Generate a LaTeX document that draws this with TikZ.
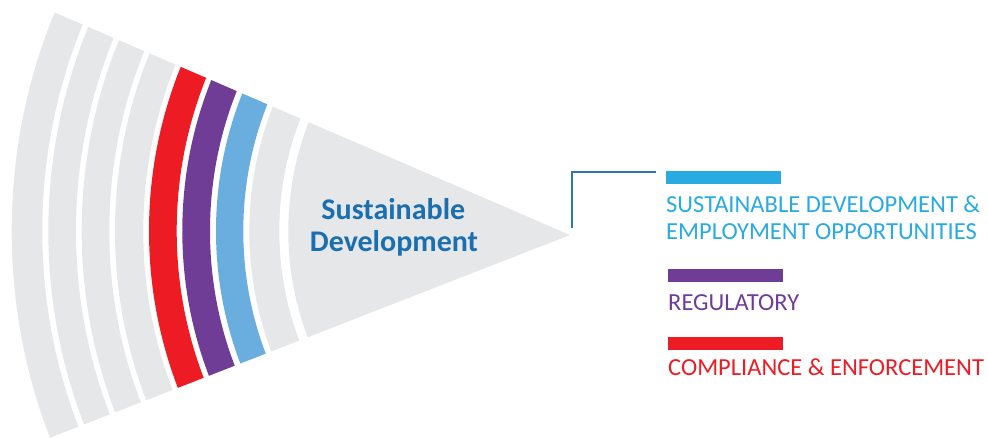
\documentclass[tikz,border=0pt]{standalone}
\usepackage{fontspec}
\setmainfont{Carlito}
\definecolor{bandgrey}{HTML}{E6E7E8}
\definecolor{bandred}{HTML}{ED1C24}
\definecolor{bandpurple}{HTML}{6F3C96}
\definecolor{bandblue}{HTML}{6AAEDF}
\definecolor{legcyan}{HTML}{29ABE2}
\definecolor{titleblue}{HTML}{1A6FB0}
\definecolor{linkblue}{HTML}{2E75B6}
\tikzset{
  titletext/.style={font=\bfseries\fontsize{30}{32}\selectfont, text=titleblue, inner sep=0pt, anchor=base},
  legtext/.style={font=\fontsize{24.5}{28}\selectfont, inner sep=0pt, anchor=base west},
  legbar/.style={minimum width=115pt, minimum height=13pt, inner sep=0pt, outer sep=0pt, anchor=north west},
  linkline/.style={draw=linkblue, line width=1.1pt}
}
\begin{document}
\begin{tikzpicture}[x=1pt,y=1pt]
\useasboundingbox (0,0) rectangle (988,437);
\coordinate (C) at (588,206);
\coordinate (A) at (570,202);
\begin{scope}
  \clip (A) -- +(156.64:800) -- +(201.3:800) -- cycle;
  \fill[bandgrey] (C) circle[radius=299.7];
  \foreach \ri/\ro/\c in {308.7/338.7/bandgrey, 344.7/372/bandblue, 378/405.7/bandpurple, 411.3/439/bandred, 444.7/473/bandgrey, 478.7/506.3/bandgrey, 512/539.7/bandgrey, 545.7/576.3/bandgrey}
    \fill[\c, even odd rule] (C) circle[radius=\ro] (C) circle[radius=\ri];
\end{scope}
\node[titletext] (t1) at (393.3,217) {Sustainable};
\node[titletext] (t2) at (394,185.3) {Development};
\coordinate (c0) at (572,209);
\coordinate (c1) at (656,265);
\draw[linkline] (c0) |- (c1);
\node[legbar, fill=legcyan] (bar1) at (666,266) {};
\node[legbar, fill=bandpurple] (bar2) at (668,168) {};
\node[legbar, fill=bandred] (bar3) at (668,100) {};
\node[legtext, text=legcyan] (l1a) at (666,224.7) {SUSTAINABLE DEVELOPMENT \&};
\node[legtext, text=legcyan] (l1b) at (666,197) {EMPLOYMENT OPPORTUNITIES};
\node[legtext, text=bandpurple] (l2) at (668,126.3) {REGULATORY};
\node[legtext, text=bandred] (l3) at (668,62) {COMPLIANCE \& ENFORCEMENT};
\end{tikzpicture}
\end{document}
